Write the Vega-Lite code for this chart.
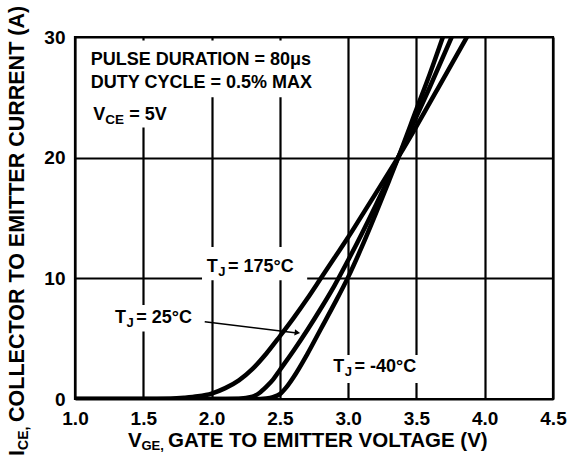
{
  "$schema": "https://vega.github.io/schema/vega-lite/v6.json",
  "width": 478,
  "height": 362,
  "autosize": {"type": "none"},
  "padding": {"left": 75, "top": 37, "right": 23, "bottom": 62},
  "background": "white",
  "config": {
    "view": {"stroke": "black", "strokeWidth": 2.2},
    "font": "Liberation Sans",
    "axis": {
      "grid": true, "gridColor": "black", "gridWidth": 2.2, "gridOpacity": 1,
      "ticks": false, "tickSize": 0, "domain": false,
      "labelFont": "Liberation Sans", "labelFontSize": 19, "labelFontWeight": "bold", "labelColor": "black"
    },
    "text": {"font": "Liberation Sans", "fontWeight": "bold", "color": "black"}
  },
  "datasets": {
    "curves": [
      {"series": "175", "v": 1.0, "i": 0}, {"series": "175", "v": 1.5, "i": 0}, {"series": "175", "v": 1.7, "i": 0.03},
      {"series": "175", "v": 1.8, "i": 0.1}, {"series": "175", "v": 1.9, "i": 0.22}, {"series": "175", "v": 2.0, "i": 0.45},
      {"series": "175", "v": 2.1, "i": 0.9}, {"series": "175", "v": 2.2, "i": 1.55}, {"series": "175", "v": 2.3, "i": 2.5},
      {"series": "175", "v": 2.4, "i": 3.75}, {"series": "175", "v": 2.5, "i": 5.2}, {"series": "175", "v": 2.6, "i": 6.7},
      {"series": "175", "v": 2.7, "i": 8.3}, {"series": "175", "v": 2.8, "i": 10.0}, {"series": "175", "v": 2.9, "i": 11.7},
      {"series": "175", "v": 3.0, "i": 13.4}, {"series": "175", "v": 3.1, "i": 15.2}, {"series": "175", "v": 3.2, "i": 17.0},
      {"series": "175", "v": 3.37, "i": 20.1}, {"series": "175", "v": 3.5, "i": 22.6}, {"series": "175", "v": 3.7, "i": 26.6},
      {"series": "175", "v": 3.88, "i": 30.2},
      {"series": "25", "v": 1.0, "i": 0}, {"series": "25", "v": 2.0, "i": 0}, {"series": "25", "v": 2.2, "i": 0.03},
      {"series": "25", "v": 2.3, "i": 0.2}, {"series": "25", "v": 2.35, "i": 0.5}, {"series": "25", "v": 2.4, "i": 1.0},
      {"series": "25", "v": 2.45, "i": 1.6}, {"series": "25", "v": 2.5, "i": 2.4}, {"series": "25", "v": 2.6, "i": 4.0},
      {"series": "25", "v": 2.7, "i": 5.7}, {"series": "25", "v": 2.8, "i": 7.5}, {"series": "25", "v": 2.9, "i": 9.4},
      {"series": "25", "v": 3.0, "i": 11.5}, {"series": "25", "v": 3.1, "i": 13.7}, {"series": "25", "v": 3.2, "i": 16.0},
      {"series": "25", "v": 3.37, "i": 20.1}, {"series": "25", "v": 3.5, "i": 23.4}, {"series": "25", "v": 3.6, "i": 25.9},
      {"series": "25", "v": 3.77, "i": 30.3},
      {"series": "-40", "v": 1.0, "i": 0}, {"series": "-40", "v": 2.3, "i": 0}, {"series": "-40", "v": 2.4, "i": 0.05},
      {"series": "-40", "v": 2.45, "i": 0.15}, {"series": "-40", "v": 2.5, "i": 0.4}, {"series": "-40", "v": 2.55, "i": 1.0},
      {"series": "-40", "v": 2.6, "i": 1.8}, {"series": "-40", "v": 2.7, "i": 3.7}, {"series": "-40", "v": 2.8, "i": 5.8},
      {"series": "-40", "v": 2.9, "i": 7.9}, {"series": "-40", "v": 3.0, "i": 10.1}, {"series": "-40", "v": 3.1, "i": 12.6},
      {"series": "-40", "v": 3.2, "i": 15.3}, {"series": "-40", "v": 3.3, "i": 18.1}, {"series": "-40", "v": 3.37, "i": 20.1},
      {"series": "-40", "v": 3.5, "i": 24.0}, {"series": "-40", "v": 3.6, "i": 27.0}, {"series": "-40", "v": 3.7, "i": 30.2}
    ],
    "masks": [
      {"v": 1.05, "v2": 2.75, "i": 25.0, "i2": 29.7},
      {"v": 1.05, "v2": 1.75, "i": 22.5, "i2": 25.05},
      {"v": 1.93, "v2": 2.70, "i": 9.85, "i2": 12.6},
      {"v": 1.28, "v2": 1.9, "i": 5.6, "i2": 7.8},
      {"v": 2.87, "v2": 3.56, "i": 1.33, "i2": 3.65}
    ],
    "notes": [
      {"v": 1.115, "i": 27.67, "text": "PULSE DURATION = 80μs"},
      {"v": 1.115, "i": 25.74, "text": "DUTY CYCLE = 0.5% MAX"}
    ],
    "vce": [{"v": 1.134, "i": 23.11, "main": "V", "sub": "CE", "rest": "= 5V"}],
    "tj": [
      {"v": 1.964, "i": 10.55, "main": "T", "sub": "J", "rest": "= 175°C"},
      {"v": 1.293, "i": 6.27, "main": "T", "sub": "J", "rest": "= 25°C"},
      {"v": 2.891, "i": 2.26, "main": "T", "sub": "J", "rest": "= -40°C"}
    ],
    "xtitle": [{"v": 1.388, "i": -3.98, "main": "V", "sub": "GE,", "rest": "GATE TO EMITTER VOLTAGE (V)"}],
    "ytitle": [{"v": 0.627, "i": -4.72, "main": "I", "sub": "CE,", "rest": "COLLECTOR TO EMITTER CURRENT (A)"}],
    "arrow": [{"v": 1.95, "i": 6.40, "v2": 2.61, "i2": 5.5}],
    "arrowhead": [{"v": 2.628, "i": 5.49}]
  },
  "encoding": {
    "x": {
      "field": "v", "type": "quantitative", "title": null,
      "scale": {"domain": [1, 4.5], "nice": false, "zero": false},
      "axis": {"title": null, "values": [1, 1.5, 2, 2.5, 3, 3.5, 4, 4.5], "format": ".1f", "labelPadding": 10, "labelFlush": false, "labelOverlap": false}
    },
    "y": {
      "field": "i", "type": "quantitative", "title": null,
      "scale": {"domain": [0, 30], "nice": false, "zero": false},
      "axis": {"title": null, "values": [0, 10, 20, 30], "labelPadding": 10, "labelFlush": false, "labelOverlap": false}
    }
  },
  "layer": [
    {
      "data": {"name": "masks"},
      "mark": {"type": "rect", "fill": "white", "strokeWidth": 0},
      "encoding": {"x2": {"field": "v2"}, "y2": {"field": "i2"}}
    },
    {
      "data": {"name": "curves"},
      "mark": {"type": "line", "color": "black", "strokeWidth": 4.5, "interpolate": "monotone", "clip": true},
      "encoding": {"detail": {"field": "series"}}
    },
    {
      "data": {"name": "arrow"},
      "mark": {"type": "rule", "color": "black", "strokeWidth": 1.5},
      "encoding": {"x2": {"field": "v2"}, "y2": {"field": "i2"}}
    },
    {
      "data": {"name": "arrowhead"},
      "mark": {"type": "point", "shape": "triangle-right", "angle": 7, "size": 40, "filled": true, "color": "black", "opacity": 1},
      "encoding": {}
    },
    {
      "data": {"name": "notes"},
      "mark": {"type": "text", "align": "left", "baseline": "alphabetic", "fontSize": 18},
      "encoding": {"text": {"field": "text"}}
    },
    {
      "data": {"name": "vce"},
      "mark": {"type": "text", "align": "left", "baseline": "alphabetic", "fontSize": 18},
      "encoding": {"text": {"field": "main"}}
    },
    {
      "data": {"name": "vce"},
      "mark": {"type": "text", "align": "left", "baseline": "alphabetic", "fontSize": 13.5, "dx": 12, "dy": 4},
      "encoding": {"text": {"field": "sub"}}
    },
    {
      "data": {"name": "vce"},
      "mark": {"type": "text", "align": "left", "baseline": "alphabetic", "fontSize": 18, "dx": 36},
      "encoding": {"text": {"field": "rest"}}
    },
    {
      "data": {"name": "tj"},
      "mark": {"type": "text", "align": "left", "baseline": "alphabetic", "fontSize": 18},
      "encoding": {"text": {"field": "main"}}
    },
    {
      "data": {"name": "tj"},
      "mark": {"type": "text", "align": "left", "baseline": "alphabetic", "fontSize": 13, "dx": 11.5, "dy": 4},
      "encoding": {"text": {"field": "sub"}}
    },
    {
      "data": {"name": "tj"},
      "mark": {"type": "text", "align": "left", "baseline": "alphabetic", "fontSize": 18, "dx": 21.3},
      "encoding": {"text": {"field": "rest"}}
    },
    {
      "data": {"name": "xtitle"},
      "mark": {"type": "text", "align": "left", "baseline": "alphabetic", "fontSize": 20.5},
      "encoding": {"text": {"field": "main"}}
    },
    {
      "data": {"name": "xtitle"},
      "mark": {"type": "text", "align": "left", "baseline": "alphabetic", "fontSize": 13, "dx": 13.5, "dy": 3},
      "encoding": {"text": {"field": "sub"}}
    },
    {
      "data": {"name": "xtitle"},
      "mark": {"type": "text", "align": "left", "baseline": "alphabetic", "fontSize": 20.5, "dx": 40},
      "encoding": {"text": {"field": "rest"}}
    },
    {
      "data": {"name": "ytitle"},
      "mark": {"type": "text", "align": "left", "baseline": "alphabetic", "fontSize": 21.5, "angle": 270},
      "encoding": {"text": {"field": "main"}}
    },
    {
      "data": {"name": "ytitle"},
      "mark": {"type": "text", "align": "left", "baseline": "alphabetic", "fontSize": 14, "angle": 270, "dx": 6, "dy": 4},
      "encoding": {"text": {"field": "sub"}}
    },
    {
      "data": {"name": "ytitle"},
      "mark": {"type": "text", "align": "left", "baseline": "alphabetic", "fontSize": 21.5, "angle": 270, "dx": 34},
      "encoding": {"text": {"field": "rest"}}
    }
  ]
}
